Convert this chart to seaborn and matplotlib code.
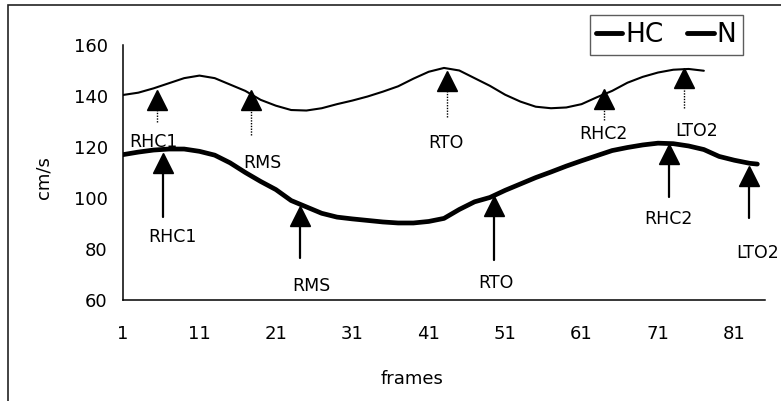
import matplotlib
matplotlib.use("Agg")
import matplotlib.pyplot as plt
import seaborn as sns
import pandas as pd
from matplotlib.patches import Rectangle

# Walking speed over the gait cycle (cm/s per frame)
frames_hc = [1, 3, 5, 7, 9, 11, 13, 15, 17, 19, 21, 23, 25, 27, 29, 31, 33, 35, 37, 39,
             41, 43, 45, 47, 49, 51, 53, 55, 57, 59, 61, 63, 65, 67, 69, 71, 73, 75, 77,
             79, 81, 83, 84]
speed_hc = [117.0, 118.0, 118.8, 119.2, 119.2, 118.3, 116.8, 113.8, 110.0, 106.5, 103.3,
            99.0, 96.5, 94.0, 92.5, 91.8, 91.2, 90.6, 90.2, 90.2, 90.8, 92.0, 95.5, 98.5,
            100.2, 103.0, 105.5, 108.0, 110.2, 112.5, 114.6, 116.6, 118.6, 119.8, 120.8,
            121.5, 121.3, 120.4, 119.0, 116.3, 114.8, 113.6, 113.3]

frames_n = [1, 3, 5, 7, 9, 11, 13, 15, 17, 19, 21, 23, 25, 27, 29, 31, 33, 35, 37, 39,
            41, 43, 45, 47, 49, 51, 53, 55, 57, 59, 61, 63, 65, 67, 69, 71, 73, 75, 77]
speed_n = [140.4, 141.3, 143.0, 145.0, 147.0, 148.0, 147.0, 144.5, 142.0, 138.5, 136.2,
           134.5, 134.3, 135.2, 136.8, 138.2, 139.8, 141.7, 143.8, 146.8, 149.5, 151.0,
           150.0, 147.0, 144.0, 140.5, 137.8, 135.8, 135.2, 135.5, 136.8, 139.5, 142.0,
           145.2, 147.5, 149.2, 150.3, 150.6, 149.9]

# Gait events: frame, triangle centre, tail end of the pointer
events_n = ["RHC1", "RMS", "RTO", "RHC2", "LTO2"]
event_frames_n = [5.4, 17.8, 43.4, 63.9, 74.4]
event_head_n = [138.4, 138.4, 145.9, 138.8, 146.9]
event_tail_n = [129.8, 124.7, 131.8, 130.6, 135.3]

events_hc = ["RHC1", "RMS", "RTO", "RHC2", "LTO2"]
event_frames_hc = [6.2, 24.1, 49.6, 72.4, 82.9]
event_head_hc = [113.9, 92.9, 96.9, 117.3, 108.6]
event_tail_hc = [92.5, 76.5, 75.7, 100.4, 92.2]

# Label anchor points (frame, cm/s)
label_pos_n = [(5.0, 121.8), (19.2, 113.9), (43.2, 121.4), (63.9, 125.1), (76.0, 126.3)]
label_pos_hc = [(7.5, 84.7), (25.7, 65.5), (49.8, 66.5), (72.4, 91.6), (81.3, 78.4)]

x_ticks = [1, 11, 21, 31, 41, 51, 61, 71, 81]
y_ticks = [60, 80, 100, 120, 140, 160]

sns.set_theme(style="white")
plt.rcParams["font.family"] = ["DejaVu Sans"]
plt.rcParams["text.color"] = "black"
plt.rcParams["axes.labelcolor"] = "black"
plt.rcParams["xtick.color"] = "black"
plt.rcParams["ytick.color"] = "black"

fig = plt.figure(figsize=(7.81, 4.01), dpi=100)
ax = fig.add_axes([0.1575, 0.2519, 0.822, 0.6359])

df_hc = pd.DataFrame({"frames": frames_hc, "cm/s": speed_hc})
df_n = pd.DataFrame({"frames": frames_n, "cm/s": speed_n})

sns.lineplot(data=df_hc, x="frames", y="cm/s", ax=ax, color="black",
             linewidth=3.4, label="HC", solid_capstyle="round")
sns.lineplot(data=df_n, x="frames", y="cm/s", ax=ax, color="black",
             linewidth=1.5, label="N", solid_capstyle="round")

# Event pointers on the upper (N) curve: dotted stems
for fr, head, tail in zip(event_frames_n, event_head_n, event_tail_n):
    ax.plot([fr, fr], [tail, head - 3.5], color="black", linewidth=1.0,
            linestyle=(0, (1, 1)))
    ax.plot([fr], [head], marker="^", markersize=14, color="black", linestyle="none")

# Event pointers on the lower (HC) curve: solid stems
for fr, head, tail in zip(event_frames_hc, event_head_hc, event_tail_hc):
    ax.plot([fr, fr], [tail, head - 3.5], color="black", linewidth=1.6)
    ax.plot([fr], [head], marker="^", markersize=14, color="black", linestyle="none")

for name, (fx, fy) in zip(events_n, label_pos_n):
    ax.text(fx, fy, name, ha="center", va="center", fontsize=12.5, color="black")
for i, (name, (fx, fy)) in enumerate(zip(events_hc, label_pos_hc)):
    ha = "left" if i == len(events_hc) - 1 else "center"
    ax.text(fx, fy, name, ha=ha, va="center", fontsize=12.5, color="black",
            clip_on=False)

ax.set_xlim(1, 85)
ax.set_ylim(60, 160)
ax.set_xticks(x_ticks)
ax.set_yticks(y_ticks)
ax.tick_params(axis="both", direction="in", length=4, width=1, colors="black",
               labelsize=13)
ax.tick_params(axis="y", pad=11)
ax.tick_params(axis="x", pad=18)

for side in ["top", "right"]:
    ax.spines[side].set_visible(False)
for side in ["left", "bottom"]:
    ax.spines[side].set_color("black")
    ax.spines[side].set_linewidth(1.1)

ax.set_xlabel("frames", fontsize=13, color="black")
ax.set_ylabel("cm/s", fontsize=13, color="black")
ax.xaxis.set_label_coords(0.45, -0.275)
ax.yaxis.set_label_coords(-0.11, 0.48)
ax.grid(False)

leg = ax.legend(loc="center", bbox_to_anchor=(666 / 781, 1 - 35 / 401),
                bbox_transform=fig.transFigure, ncol=2, frameon=True,
                fontsize=19, handlelength=1.0, handletextpad=0.1,
                columnspacing=0.9, borderpad=0.25, fancybox=False)
leg.get_frame().set_edgecolor("#333333")
leg.get_frame().set_linewidth(1.0)
for line in leg.get_lines():
    line.set_linewidth(3.5)
for t in leg.get_texts():
    t.set_color("black")

# Outer frame around the figure
fig.patches.append(Rectangle((8 / 781, -0.01), 1.05, 1 - 5 / 401 + 0.01,
                             transform=fig.transFigure, fill=False,
                             edgecolor="#222222", linewidth=1.2))

fig.savefig("out.png", dpi=100)
